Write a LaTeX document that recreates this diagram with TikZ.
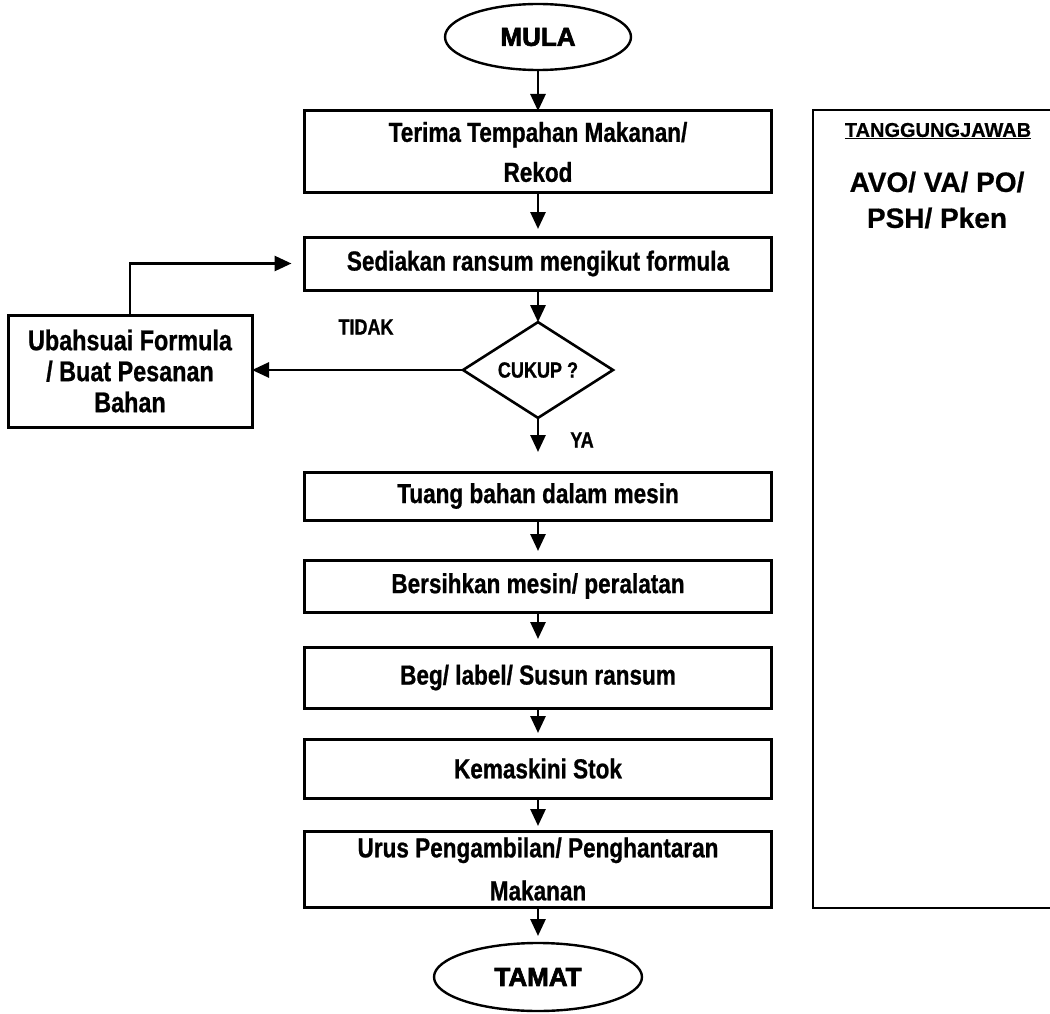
\documentclass[tikz,border=0pt]{standalone}
\usepackage{fontspec}
\setmainfont{Liberation Sans}
\newfontfamily\narrowfont[FakeStretch=0.82,FakeBold=0.8]{Liberation Sans}
\newfontfamily\heavyfont[FakeBold=2.5]{Liberation Sans}
\newfontfamily\boldfont[FakeBold=0.6]{Liberation Sans}
\usetikzlibrary{shapes.geometric,arrows.meta}
\begin{document}
\begin{tikzpicture}[x=1pt,y=-1pt,
  every node/.style={inner sep=0pt, outer sep=0pt},
  procbox/.style={draw, line width=3pt, minimum width=467pt, align=center,
    font=\narrowfont\bfseries\fontsize{27.5}{40}\selectfont},
  terminal/.style={draw, ellipse, line width=2.4pt, minimum width=186pt, minimum height=66pt,
    font=\heavyfont\bfseries\fontsize{26}{30}\selectfont},
  decision/.style={draw, diamond, line width=2.6pt, minimum width=150pt, minimum height=86pt,
    font=\narrowfont\bfseries\fontsize{22}{26}\selectfont},
  lbl/.style={font=\narrowfont\bfseries\fontsize{22}{26}\selectfont},
  arr/.style={line width=2.8pt, -{Triangle[length=17pt,width=15pt]}},
  panelline/.style={line width=2.6pt}
]
\useasboundingbox (0,0) rectangle (1050,1014);

% terminals and process boxes
\node[terminal] (mula) at (538,37) {MULA};
\node[procbox, minimum height=82pt] (b1) at (538,152) {Terima Tempahan Makanan/\\Rekod};
\node[procbox, minimum height=53pt] (b2) at (538,263.5) {Sediakan ransum mengikut formula};
\node[decision] (cukup) at (538,370) {CUKUP ?};
\node[procbox, minimum width=244pt, minimum height=112pt,
  font=\narrowfont\bfseries\fontsize{28.5}{31}\selectfont] (ubah) at (130,371)
  {Ubahsuai Formula\\/ Buat Pesanan\\Bahan};
\node[procbox, minimum height=48pt] (b3) at (538,496) {Tuang bahan dalam mesin};
\node[procbox, minimum height=52pt] (b4) at (538,586) {Bersihkan mesin/ peralatan};
\node[procbox, minimum height=61pt] (b5) at (538,677.5) {Beg/ label/ Susun ransum};
\node[procbox, minimum height=59pt] (b6) at (538,768.5) {Kemaskini Stok};
\node[procbox, minimum height=76pt, font=\narrowfont\bfseries\fontsize{27.5}{43}\selectfont] (b7) at (538,869) {Urus Pengambilan/ Penghantaran\\Makanan};
\node[terminal, minimum width=208pt, minimum height=68pt] (tamat) at (538,977) {TAMAT};

% labels
\node[lbl] (tidak) at (366,327) {TIDAK};
\node[lbl] (ya) at (582,440) {YA};

% connectors
\draw[arr] (mula) -- (b1);
\draw[arr, shorten >=8pt] (b1) -- (b2);
\draw[arr] (b2) -- (cukup);
\draw[arr] (cukup.west) -- (cukup.west -| ubah.east);
\draw[arr, shorten >=13pt] (ubah.north) |- (b2.west);
\draw[arr, shorten >=20pt] (cukup) -- (b3);
\draw[arr, shorten >=9pt] (b3) -- (b4);
\draw[arr, shorten >=8pt] (b4) -- (b5);
\draw[arr, shorten >=6pt] (b5) -- (b6);
\draw[arr, shorten >=5pt] (b6) -- (b7);
\draw[arr, shorten >=7pt] (b7) -- (tamat);

% responsibility panel (cut off at right edge)
\draw[panelline] (1050,110) -- (813,110) -- (813,908) -- (1050,908);
\node[font=\boldfont\bfseries\fontsize{20}{24}\selectfont] (resp) at (938,131) {\underline{TANGGUNGJAWAB}};
\node[font=\boldfont\bfseries\fontsize{28}{36}\selectfont, align=center] (who) at (937,200) {AVO/ VA/ PO/\\PSH/ Pken};
\end{tikzpicture}
\end{document}
